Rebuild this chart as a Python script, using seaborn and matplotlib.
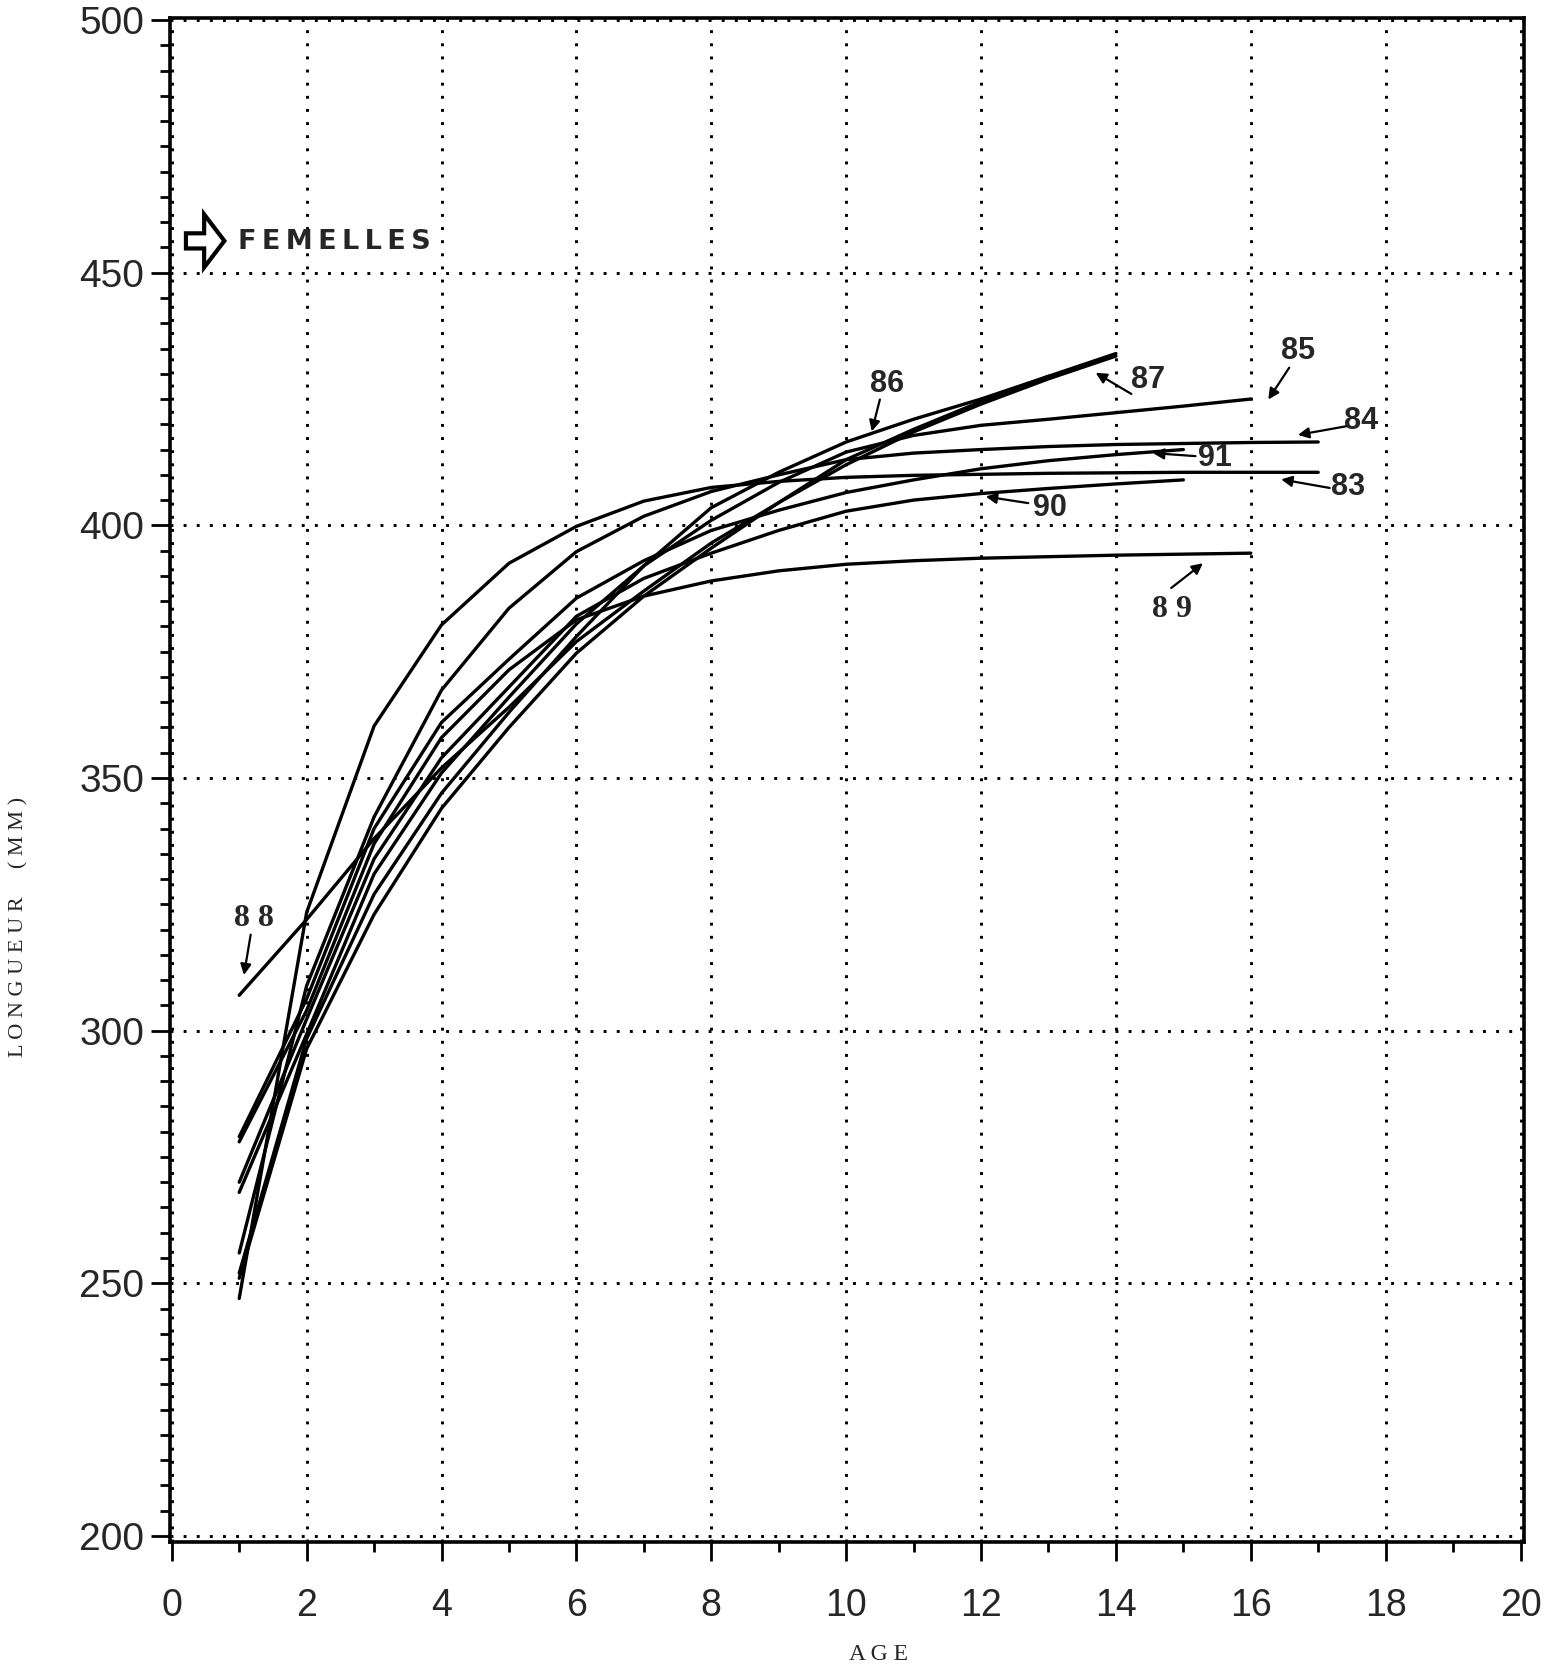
import numpy as np
import pandas as pd
import matplotlib
matplotlib.use("Agg")
import matplotlib.pyplot as plt
import seaborn as sns
from matplotlib.patches import FancyArrow
from matplotlib.ticker import MultipleLocator

# ---------------- data (length in mm at ages 1, 2, 3, ...) ----------------
year_labels = ["83", "84", "85", "86", "87", "88", "89", "90", "91"]
len_83 = [247, 323.4, 360.3, 380.3, 392.5, 399.8, 404.8, 407.5, 408.7, 409.5, 409.9, 410.1, 410.3, 410.4, 410.5, 410.5, 410.5]
len_84 = [256, 308.9, 342.3, 367.4, 383.6, 394.8, 401.8, 406.7, 410, 413, 414.3, 415, 415.6, 416, 416.2, 416.4, 416.5]
len_85 = [268, 299.3, 331, 351, 366, 380.5, 392, 401, 408.5, 414.5, 417.8, 419.8, 421, 422.3, 423.6, 425]
len_86 = [252, 298.4, 327, 347, 363, 378, 392, 403.5, 410.5, 416.5, 421, 425, 429.5]
len_87 = [251, 296.4, 323, 344, 360, 374.7, 386, 395.5, 404.5, 413, 419, 424.5, 429.5, 434]
len_88 = [307, 322, 338, 352, 364, 377, 387, 396.5, 404.5, 412, 418.5, 424, 429, 433.5]
len_89 = [278, 304, 337, 358, 371.4, 381.3, 386, 389, 391, 392.3, 393, 393.5, 393.8, 394.1, 394.3, 394.5]
len_90 = [270, 302.3, 334, 354, 368, 382, 389.5, 394.5, 399, 402.8, 405, 406.3, 407.3, 408.2, 409]
len_91 = [279, 306.3, 340, 361, 373.5, 385.6, 393, 399, 403, 406.5, 409, 411.2, 412.8, 414, 415]

x_ticks = [0, 2, 4, 6, 8, 10, 12, 14, 16, 18, 20]
y_ticks = [200, 250, 300, 350, 400, 450, 500]

series = [len_83, len_84, len_85, len_86, len_87, len_88, len_89, len_90, len_91]
rows = []
for yr, vals in zip(year_labels, series):
    for i, v in enumerate(vals):
        rows.append({"year": yr, "age": i + 1, "mm": v})
df = pd.DataFrame(rows)

# ---------------- figure ----------------
sns.set_style("ticks")
plt.rcParams["font.family"] = ["Liberation Sans", "DejaVu Sans"]

fig = plt.figure(figsize=(15.55, 16.71), dpi=100)
ax = fig.add_axes([0.1096, 0.0772, 0.980 - 0.1096, 0.9892 - 0.0772])

sns.lineplot(data=df, x="age", y="mm", units="year", estimator=None,
             color="black", lw=2.4, sort=False, ax=ax, legend=False)

ax.set_xlim(-0.02, 20.05)
ax.set_ylim(198.8, 500.4)
ax.set_xticks(x_ticks)
ax.set_yticks(y_ticks)
ax.xaxis.set_minor_locator(MultipleLocator(1))
ax.yaxis.set_minor_locator(MultipleLocator(5))
ax.grid(True, which="major", color="black", linestyle=(0, (1, 3.5)), linewidth=2.1)

ax.tick_params(which="major", direction="out", length=14, width=2, color="black")
ax.tick_params(which="minor", direction="out", length=7, width=2, color="black")
ax.tick_params(axis="x", which="major", pad=19, labelsize=27)
ax.tick_params(axis="y", which="major", pad=5, labelsize=28)
for s in ax.spines.values():
    s.set_linewidth(2.6)
    s.set_color("black")
ax.set_xlabel("")
ax.set_ylabel("")

# axis titles (spaced serif)
fig.text(19 / 1555, 0.445, "L O N G U E U R     ( M M )", rotation=90,
         ha="center", va="center", fontsize=16, family=["Liberation Serif", "DejaVu Serif"])
fig.text(0.565, 0.0096, "A G E", ha="center", va="center", fontsize=17,
         family=["Liberation Serif", "DejaVu Serif"])

# FEMELLES marker
ax.add_patch(FancyArrow(0.21, 456.3, 0.57, 0, width=3.0, head_width=10.5, head_length=0.3,
                        length_includes_head=True, fc="white", ec="black", lw=3.0))
ax.text(0.98, 456.0, "\u2009".join("FEMELLES"), fontsize=19.5, fontweight="bold",
        ha="left", va="center", family=["DejaVu Sans"])

# curve labels with arrows: (text, text position, arrow tail, arrow tip, serif?)
label_specs = [
    ("87", (14.47, 428.7), (14.23, 426.0), (13.70, 430.2), False),
    ("85", (16.70, 434.6), (16.57, 431.2), (16.26, 424.9), False),
    ("84", (17.63, 420.7), (17.41, 419.6), (16.70, 417.9), False),
    ("91", (15.47, 413.3), (15.18, 413.7), (14.55, 414.3), False),
    ("83", (17.44, 407.6), (17.17, 407.4), (16.45, 409.1), False),
    ("90", (13.02, 403.4), (12.70, 404.4), (12.07, 405.7), False),
    ("8 9", (14.83, 383.3), (14.82, 387.6), (15.29, 392.5), True),
    ("86", (10.60, 428.0), (10.50, 424.9), (10.38, 418.6), False),
    ("8 8", (1.22, 322.2), (1.17, 319.0), (1.07, 311.0), True),
]
for txt, tpos, tail, tip, serif in label_specs:
    if serif:
        fam, fs = ["Liberation Serif", "DejaVu Serif"], 23
    else:
        fam, fs = ["Liberation Sans Narrow", "Liberation Sans", "DejaVu Sans"], 22
    ax.text(tpos[0], tpos[1], txt, fontsize=fs, fontweight="bold", ha="center", va="center", family=fam)
    ax.annotate("", xy=tip, xytext=tail,
                arrowprops=dict(arrowstyle="-|>", color="black", lw=1.6, mutation_scale=16,
                                shrinkA=0, shrinkB=0))

fig.savefig("out.png", dpi=100)
